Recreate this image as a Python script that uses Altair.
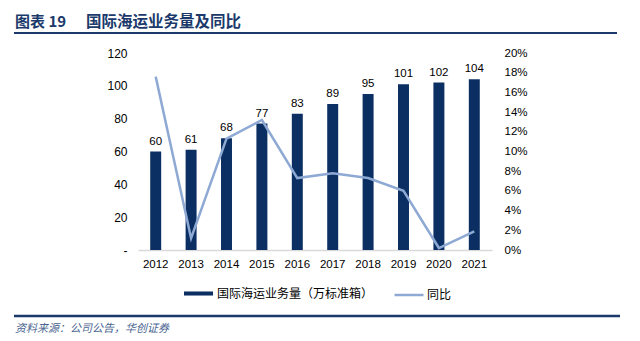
import altair as alt
import pandas as pd

years = ["2012", "2013", "2014", "2015", "2016", "2017", "2018", "2019", "2020", "2021"]
volume = [60, 61, 68, 77, 83, 89, 95, 101, 102, 104]
yoy = [0.176, 0.012, 0.113, 0.132, 0.073, 0.078, 0.073, 0.060, 0.002, 0.019]

left_ticks = [0, 20, 40, 60, 80, 100, 120]
right_ticks = [0, 0.02, 0.04, 0.06, 0.08, 0.10, 0.12, 0.14, 0.16, 0.18, 0.20]

bar_name = "国际海运业务量（万标准箱）"
line_name = "同比"
title_a = "图表 19"
title_b = "国际海运业务量及同比"
source = "资料来源：公司公告，华创证券"

NAVY = "#0B2F62"
LIGHT = "#8EA9D3"
TITLE = "#1B3A6B"
FONT = "Liberation Sans"
CJK = "Noto Sans CJK SC"

df = pd.DataFrame({"year": years, "volume": volume, "yoy": yoy,
                   "s_bar": [bar_name] * len(years), "s_line": [line_name] * len(years)})

# plot origin (138, 53)
OX, OY = 138, 53

x = alt.X(
    "year:N", sort=years,
    scale=alt.Scale(paddingInner=0.69, paddingOuter=0.345),
    axis=alt.Axis(title=None, labelAngle=0, ticks=False, domainColor="#D9D9D9",
                  domainWidth=1.5, labelPadding=8, labelFontSize=11.5,
                  labelColor="#000000", labelFont=FONT),
)

base = alt.Chart(df)

bars = base.mark_bar().encode(
    x=x,
    y=alt.Y("volume:Q", scale=alt.Scale(domain=[0, 120]),
            axis=alt.Axis(values=left_ticks, title=None, grid=False, ticks=False,
                          domain=False, labelPadding=11, labelFontSize=12,
                          labelColor="#000000", labelFont=FONT,
                          labelExpr="datum.value == 0 ? '-' : datum.label")),
    fill=alt.Fill("s_bar:N", scale=alt.Scale(range=[NAVY]),
                  legend=alt.Legend(title=None, orient="none", legendX=184 - OX,
                                    legendY=279 - OY,
                                    symbolType="M-1,-0.14H1V0.14H-1Z",
                                    symbolSize=841, symbolStrokeWidth=0,
                                    labelFont=CJK, labelFontSize=12, labelLimit=400,
                                    labelColor="#000000", labelOffset=4)),
)

labels = base.mark_text(baseline="alphabetic", dy=-7, font=FONT, fontSize=11.5,
                        color="#000000").encode(
    x=alt.X("year:N", sort=years),
    y=alt.Y("volume:Q", scale=alt.Scale(domain=[0, 120]), axis=None),
    text=alt.Text("volume:Q"),
)

line = base.mark_line(strokeWidth=2.5).encode(
    x=alt.X("year:N", sort=years),
    y=alt.Y("yoy:Q", scale=alt.Scale(domain=[0, 0.2]),
            axis=alt.Axis(orient="right", values=right_ticks, format=".0%", title=None,
                          grid=False, ticks=False, domain=False, labelPadding=12,
                          labelFontSize=11.5, labelColor="#000000", labelFont=FONT)),
    stroke=alt.Stroke("s_line:N", scale=alt.Scale(range=[LIGHT]),
                      legend=alt.Legend(title=None, orient="none",
                                        legendX=393 - OX, legendY=279 - OY,
                                        symbolType="stroke", symbolSize=841,
                                        symbolStrokeWidth=2.5,
                                        labelFont=CJK, labelFontSize=12,
                                        labelColor="#000000", labelOffset=2)),
)

main = alt.layer(bars, labels, line).resolve_scale(y="independent")

one = pd.DataFrame({"k": [0]})

t1 = alt.Chart(pd.DataFrame({"t": [title_a]})).mark_text(
    align="left", baseline="middle", font=CJK, fontSize=15, fontWeight="bold",
    color=TITLE).encode(x=alt.value(15 - OX), y=alt.value(22 - OY), text="t:N")
t2 = alt.Chart(pd.DataFrame({"t": [title_b]})).mark_text(
    align="left", baseline="middle", font=CJK, fontSize=15.5, fontWeight="bold",
    color=TITLE).encode(x=alt.value(86 - OX), y=alt.value(22 - OY), text="t:N")
rule_top = alt.Chart(one).mark_rule(color=TITLE, strokeWidth=2).encode(
    x=alt.value(14 - OX), x2=alt.value(617 - OX), y=alt.value(33 - OY))
rule_bot = alt.Chart(one).mark_rule(color=TITLE, strokeWidth=2.5).encode(
    x=alt.value(14 - OX), x2=alt.value(620 - OX), y=alt.value(316 - OY))
src = alt.Chart(pd.DataFrame({"t": [source]})).mark_text(
    align="left", baseline="middle", font=CJK, fontSize=11, fontStyle="italic",
    color="#4A6590").encode(x=alt.value(15 - OX), y=alt.value(329 - OY), text="t:N")

chart = alt.layer(main, t1, t2, rule_top, rule_bot, src).properties(
    width=354, height=197,
    padding={"left": OX, "top": OY, "right": 640 - OX - 354, "bottom": 341 - OY - 197},
    autosize="none", background="white",
).configure_view(stroke=None)

chart.save("out.html", embed_options={"renderer": "svg", "actions": False})
